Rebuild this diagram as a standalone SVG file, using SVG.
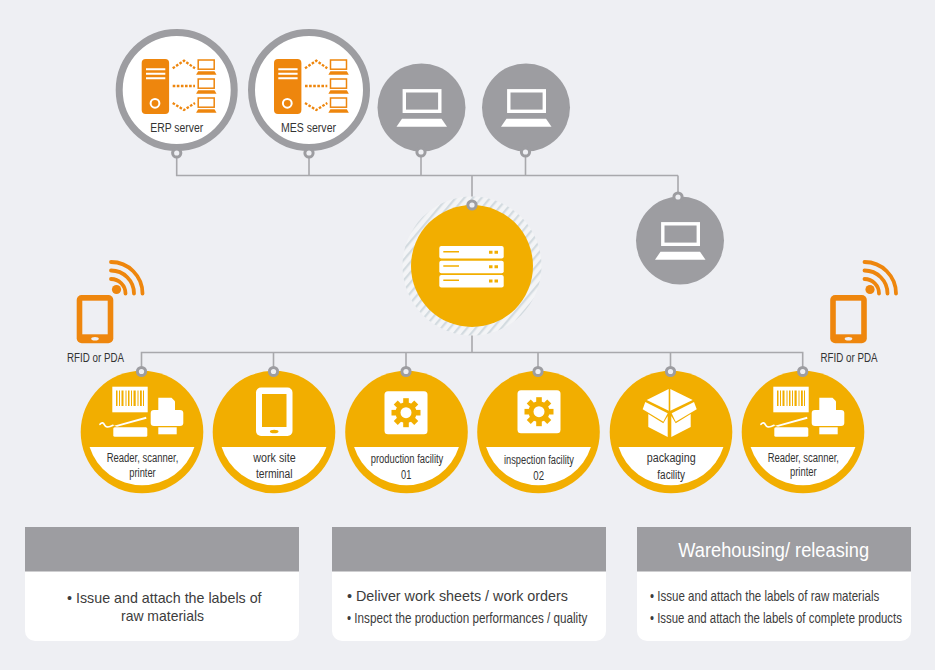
<svg xmlns="http://www.w3.org/2000/svg" width="935" height="670" viewBox="0 0 935 670">
<style>
text{font-family:"Liberation Sans",Arial,sans-serif;fill:#333;text-anchor:middle}
.s{font-size:12px}
.b{font-size:15px;fill:#3c3c3c;text-anchor:start}
.n{font-size:14px;fill:#3c3c3c;text-anchor:start}
.bc{font-size:15px;fill:#3c3c3c}
.h{font-size:20px;fill:#fff}
.line{fill:none;stroke:#a8a8ac;stroke-width:1.6}
.o{fill:#ee860d}
.y{fill:#f2ae00}
.w{fill:#fff}
.d{fill:none;stroke:#ee860d;stroke-width:2.3;stroke-dasharray:2.6 1.5}
</style>
<defs>
<pattern id="hatch" width="6.6" height="6.6" patternUnits="userSpaceOnUse" patternTransform="rotate(40)">
<rect width="6.6" height="6.6" fill="#f3f4f6"/><rect width="2.2" height="6.6" fill="#d3dbe0"/>
</pattern>
<g id="pin"><circle r="5.6" fill="#9d9da1"/><circle r="2.6" fill="#eeeff3"/></g>
<g id="mini">
<rect x="1.7" y="1.3" width="16" height="9.2" fill="#fff" stroke="#ee860d" stroke-width="1.5"/>
<path d="M1.6 12.6H18L20 16H-.4Z" class="o"/>
</g>
<g id="srv">
<rect x="141.7" y="59" width="27.4" height="55" rx="4" class="o"/>
<path d="M146 69.3H165.3M146 73.8H165.3M146 78.3H165.3" stroke="#fff" stroke-width="2" fill="none"/>
<circle cx="155" cy="103.3" r="4.4" fill="none" stroke="#fff" stroke-width="2"/>
<path d="M172.7 68.3L184 60.7L195 68.3M172.7 86H195M172.7 103L184 110L195 103" class="d"/>
<use href="#mini" transform="translate(196.5,58.7)"/>
<use href="#mini" transform="translate(196.5,77.7)"/>
<use href="#mini" transform="translate(196.5,96.7)"/>
</g>
<g id="lap">
<rect x="-17.2" y="-17.2" width="35.5" height="20.5" fill="none" stroke="#fff" stroke-width="3.4"/>
<path d="M-19.5 10.7H20L25.5 18.7H-25Z" class="w"/>
</g>
<g id="phone">
<rect x="76.7" y="295" width="36.6" height="48.3" rx="5" class="o"/>
<rect x="82.3" y="300.7" width="25.4" height="33.6" fill="#eeeff3"/>
<ellipse cx="95" cy="338.7" rx="3.8" ry="1.8" fill="#eeeff3"/>
<circle cx="116.5" cy="289.5" r="4.6" class="o"/>
<path d="M111 262A31.5 31.5 0 0 1 142.5 293.5M111 270.5A23 23 0 0 1 134 293.5M111 279A14.5 14.5 0 0 1 125.500 293.5" fill="none" stroke="#ee860d" stroke-width="3.800" stroke-linecap="round"/>
</g>
<g id="rsp">
<rect x="-29.7" y="-45.3" width="35.4" height="25.6" class="w"/>
<path d="M-26 -41.5h1.5v15.5h-1.5zM-23 -41.5h1v15.5h-1zM-20.5 -41.5h2v15.5h-2zM-16.5 -41.5h1v15.5h-1zM-14 -41.5h1.5v15.5h-1.5zM-11 -41.5h1v15.5h-1zM-8.5 -41.5h2.2v15.5h-2.2zM-4.5 -41.5h1v15.5h-1zM-2 -41.5h1.8v15.5h-1.8zM1 -41.5h1v15.5h-1z" class="y"/>
<path d="M-42 -7.7c2 -2.500 3.500 -1.500 4.500 .5s3 3.500 8.500 .5" fill="none" stroke="#fff" stroke-width="1.700" stroke-linecap="round"/>
<path d="M-28 -6.300L4 -15.300L4.500 -13.300L-25 -5.300Z" class="w"/>
<rect x="-28.7" y="-4.7" width="34" height="9.4" rx="1.5" class="w"/>
<path d="M16.300 -34.300H29.500L33 -30.800V-20H16.300Z" class="w"/>
<path d="M8.700 -19Q8.700 -22 12 -22H38Q41.300 -22 41.300 -19V-9Q41.300 -6 38 -6H12Q8.700 -6 8.700 -9Z" class="w"/>
<rect x="16.3" y="-4.7" width="18.4" height="7" class="w"/>
</g>
<g id="gear">
<rect x="-21.5" y="-21.5" width="43" height="43" rx="3.5" class="w"/>
<g class="y">
<circle r="10.5"/>
<g id="t"><rect x="-2.8" y="-14.5" width="5.6" height="6"/><rect x="-2.8" y="8.5" width="5.6" height="6"/><rect x="-14.5" y="-2.8" width="6" height="5.6"/><rect x="8.5" y="-2.8" width="6" height="5.6"/></g>
<use href="#t" transform="rotate(45)"/>
</g>
<circle r="5.5" class="w"/>
</g>
</defs>
<rect width="935" height="670" fill="#eeeff3"/>

<g id="connectors">
<path class="line" d="M176.700 153V175.500H678M309 153V175.500M421 152V175.500M525.500 152V175.500M678 175.500V197M472 175.500V205M472 327V352.500M141.500 370V352.500H802.700V370M273.500 352.500V370M406 352.500V370M538 352.500V370M670.500 352.500V370"/>
</g>

<g id="erp">
<circle cx="176.7" cy="90" r="57.5" class="w" stroke="#9d9da1" stroke-width="7"/>
<use href="#srv"/>
<text class="s" x="176.7" y="131.7" textLength="53" lengthAdjust="spacingAndGlyphs">ERP server</text>
<use href="#pin" x="176.7" y="153"/>
</g>
<g id="mes">
<circle cx="309" cy="90" r="57.5" class="w" stroke="#9d9da1" stroke-width="7"/>
<use href="#srv" x="132.3"/>
<text class="s" x="308.5" y="131.7" textLength="55" lengthAdjust="spacingAndGlyphs">MES server</text>
<use href="#pin" x="309" y="153"/>
</g>
<g id="pc1">
<circle cx="421.5" cy="107.5" r="44" fill="#9d9da1"/>
<use href="#lap" x="421.5" y="108"/>
<use href="#pin" x="421" y="152"/>
</g>
<g id="pc2">
<circle cx="526" cy="107.5" r="44" fill="#9d9da1"/>
<use href="#lap" x="526" y="108"/>
<use href="#pin" x="525.5" y="152"/>
</g>
<g id="pc3">
<circle cx="680" cy="240.5" r="44" fill="#9d9da1"/>
<use href="#lap" x="680" y="241"/>
<use href="#pin" x="678" y="197"/>
</g>

<g id="hub">
<circle cx="472" cy="266" r="69.5" fill="url(#hatch)"/>
<circle cx="472" cy="266" r="61" class="y"/>
<g class="w"><rect x="439.3" y="246" width="64.4" height="12.5" rx="2"/><rect x="439.3" y="260.7" width="64.4" height="12.5" rx="2"/><rect x="439.3" y="275" width="64.4" height="12.5" rx="2"/></g>
<path d="M443.3 251.700H459M443.300 266H459M443.300 280.300H459" stroke="#f2ae00" stroke-width="1.400"/>
<path d="M489 252.300h3.500M494.500 252.300h3.500M489 266.700h3.500M494.500 266.700h3.500M489 281h3.500M494.500 281h3.500" stroke="#f2ae00" stroke-width="3"/>
<use href="#pin" x="472" y="205"/>
</g>

<g id="rfid-left">
<use href="#phone"/>
<text class="s" x="95.5" y="361.7" textLength="57" lengthAdjust="spacingAndGlyphs">RFID or PDA</text>
</g>
<g id="rfid-right">
<use href="#phone" x="753.5"/>
<text class="s" x="849" y="361.7" textLength="57" lengthAdjust="spacingAndGlyphs">RFID or PDA</text>
</g>

<g id="n1">
<circle cx="142" cy="432" r="61.3" class="y"/>
<path d="M89.600 447H194.400A55 55 0 0 1 89.600 447Z" class="w"/>
<use href="#rsp" x="142" y="432"/>
<text class="s" x="142.5" y="462.3" textLength="71.6" lengthAdjust="spacingAndGlyphs">Reader, scanner,</text>
<text class="s" x="142.5" y="476.7" textLength="26.4" lengthAdjust="spacingAndGlyphs">printer</text>
<use href="#pin" x="141.5" y="371.5"/>
</g>
<g id="n2">
<circle cx="274" cy="432" r="61.3" class="y"/>
<path d="M221.600 447H326.400A55 55 0 0 1 221.600 447Z" class="w"/>
<rect x="256" y="387.5" width="36.5" height="48.5" rx="5" class="w"/>
<rect x="262" y="394" width="24.5" height="33" class="y"/>
<ellipse cx="274.2" cy="431.5" rx="4.3" ry="1.8" class="y"/>
<text class="s" x="274.5" y="462" textLength="42.4" lengthAdjust="spacingAndGlyphs">work site</text>
<text class="s" x="274.3" y="478" textLength="36.7" lengthAdjust="spacingAndGlyphs">terminal</text>
<use href="#pin" x="273.5" y="371.5"/>
</g>
<g id="n3">
<circle cx="406.5" cy="432" r="61.3" class="y"/>
<path d="M354.100 447H458.900A55 55 0 0 1 354.100 447Z" class="w"/>
<use href="#gear" x="406" y="412.7"/>
<text class="s" x="407" y="462.7" textLength="72.6" lengthAdjust="spacingAndGlyphs">production facility</text>
<text class="s" x="406.2" y="479" textLength="10.3" lengthAdjust="spacingAndGlyphs">01</text>
<use href="#pin" x="406" y="371.5"/>
</g>
<g id="n4">
<circle cx="538.5" cy="432" r="61.3" class="y"/>
<path d="M486.100 447H590.900A55 55 0 0 1 486.100 447Z" class="w"/>
<use href="#gear" x="539" y="411.7"/>
<text class="s" x="539" y="463.7" textLength="70" lengthAdjust="spacingAndGlyphs">inspection facility</text>
<text class="s" x="538.7" y="480" textLength="10.7" lengthAdjust="spacingAndGlyphs">02</text>
<use href="#pin" x="538" y="371.5"/>
</g>
<g id="n5">
<circle cx="671" cy="432" r="61.3" class="y"/>
<path d="M618.600 447H723.400A55 55 0 0 1 618.600 447Z" class="w"/>
<g class="w">
<path d="M668.700 389L646.700 400L668.700 410.700Z"/>
<path d="M670.300 389L692.700 400L670.300 410.700Z"/>
<path d="M645.300 402L667.700 413.300L663.300 421.700L642.700 409.300Z"/>
<path d="M694 402L671.700 413.300L675.700 421.700L696.700 409.300Z"/>
<path d="M648.300 414L663.300 423.200L667.700 416V437L648.300 427Z"/>
<path d="M690.700 414L675.700 423.200L671.300 416V437L690.700 427Z"/>
</g>
<text class="s" x="671.2" y="462.3" textLength="49" lengthAdjust="spacingAndGlyphs">packaging</text>
<text class="s" x="671.2" y="479" textLength="27.7" lengthAdjust="spacingAndGlyphs">facility</text>
<use href="#pin" x="670.5" y="371.5"/>
</g>
<g id="n6">
<circle cx="803" cy="432" r="61.3" class="y"/>
<path d="M750.600 447H855.400A55 55 0 0 1 750.600 447Z" class="w"/>
<use href="#rsp" x="803" y="432"/>
<text class="s" x="803.3" y="462.3" textLength="71.3" lengthAdjust="spacingAndGlyphs">Reader, scanner,</text>
<text class="s" x="803.3" y="476" textLength="26.7" lengthAdjust="spacingAndGlyphs">printer</text>
<use href="#pin" x="802.7" y="371.5"/>
</g>

<g id="box1">
<rect x="25" y="527" width="274" height="114" rx="10" class="w"/>
<path d="M25 527H299V571.500H25Z" fill="#9d9da1"/>
<text class="bc" x="164.3" y="603" textLength="194.6" lengthAdjust="spacingAndGlyphs">• Issue and attach the labels of</text>
<text class="bc" x="162.5" y="621" textLength="83" lengthAdjust="spacingAndGlyphs">raw materials</text>
</g>
<g id="box2">
<rect x="332" y="527" width="274" height="114" rx="10" class="w"/>
<path d="M332 527H606V571.500H332Z" fill="#9d9da1"/>
<text class="b" x="347" y="601" textLength="221" lengthAdjust="spacingAndGlyphs">• Deliver work sheets / work orders</text>
<text class="n" transform="translate(347 623) scale(.835 1)">• Inspect the production performances / quality</text>
</g>
<g id="box3">
<rect x="637" y="527" width="274" height="114" rx="10" class="w"/>
<path d="M637 527H911V571.500H637Z" fill="#9d9da1"/>
<text class="h" x="773.7" y="556.7" textLength="190.7" lengthAdjust="spacingAndGlyphs">Warehousing/ releasing</text>
<text class="n" transform="translate(650 601) scale(.825 1)">• Issue and attach the labels of raw materials</text>
<text class="n" transform="translate(650 623) scale(.815 1)">• Issue and attach the labels of complete products</text>
</g>
</svg>
